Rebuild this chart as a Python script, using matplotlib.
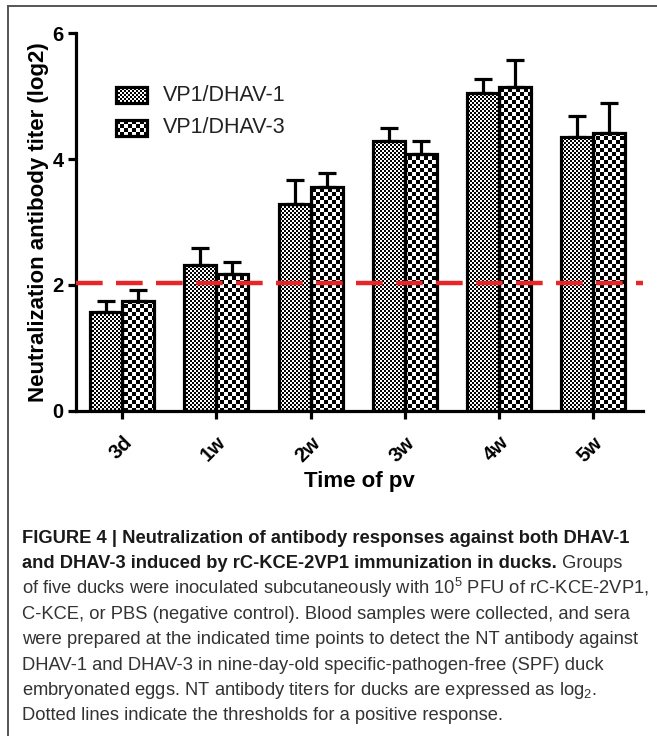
import numpy as np
import matplotlib
matplotlib.use('Agg')
from matplotlib import pyplot as plt
from matplotlib.patches import Rectangle
from matplotlib.lines import Line2D

plt.rcParams['font.family'] = ['Liberation Sans', 'DejaVu Sans']

# data
categories = ['3d', '1w', '2w', '3w', '4w', '5w']
dhav1 = [1.57, 2.31, 3.28, 4.28, 5.05, 4.35]
dhav1_err = [0.18, 0.27, 0.38, 0.21, 0.22, 0.34]
dhav3 = [1.74, 2.17, 3.55, 4.08, 5.14, 4.41]
dhav3_err = [0.18, 0.20, 0.23, 0.20, 0.44, 0.48]
labels = ['VP1/DHAV-1', 'VP1/DHAV-3']
threshold = 2.03
yticks = [0, 2, 4, 6]

W, H = 657, 736
fig = plt.figure(figsize=(W / 100, H / 100), dpi=100)
ax = fig.add_axes([76 / W, 1 - 410.7 / H, (643 - 76) / W, (410.7 - 33.3) / H])
ax.patch.set_alpha(0)

# checker patterns, pixel aligned (fine for DHAV-1, coarse for DHAV-3)
ii, jj = np.mgrid[0:H, 0:W]
checkers = [((ii // 2 + jj // 2) % 2).astype(float),
            ((ii // 4 + jj // 4) % 2).astype(float)]

def fill_checker(patch, k):
    im = fig.figimage(checkers[k], xo=0, yo=0, cmap='gray', vmin=0, vmax=1,
                      origin='lower', zorder=-1)
    im.set_clip_path(patch)

x = np.arange(len(categories))
w = 0.34
lw = 2.3
for k, (vals, errs) in enumerate([(dhav1, dhav1_err), (dhav3, dhav3_err)]):
    xs = x - w / 2 if k == 0 else x + w / 2
    ax.errorbar(xs, vals, yerr=[np.zeros(len(vals)), errs], fmt='none',
                ecolor='k', elinewidth=lw, capsize=6.5, capthick=lw, zorder=2)
    bars = ax.bar(xs, vals, width=w, facecolor='none', edgecolor='k',
                  linewidth=lw, zorder=3)
    for b in bars:
        fill_checker(b, k)

ax.axhline(threshold, color='#e8262a', lw=3.2, dashes=(6, 3), zorder=4)

# legend drawn by hand so the patches can carry the checker fill
for k, lab in enumerate(labels):
    yb = 0.815 - k * 0.087
    r = Rectangle((0.0705, yb), 0.0547, 0.0424, transform=ax.transAxes,
                  facecolor='none', edgecolor='k', lw=lw, zorder=5)
    ax.add_patch(r)
    fill_checker(r, k)
    ax.text(0.153, yb + 0.0212, lab, transform=ax.transAxes, fontsize=15.5,
            va='center', ha='left', color='#222')

ax.set_xlim(-0.49, 5.53)
ax.set_ylim(0, 6)
ax.set_yticks(yticks)
ax.set_yticklabels([str(t) for t in yticks], fontsize=14.5, fontweight='bold')
ax.set_xticks(x)
ax.set_xticklabels(categories, fontsize=14.5, fontweight='bold', rotation=45,
                   ha='right', rotation_mode='anchor')
for s in ['top', 'right']:
    ax.spines[s].set_visible(False)
for s in ['left', 'bottom']:
    ax.spines[s].set_linewidth(lw)
ax.tick_params(direction='out', length=6, width=lw, pad=3)
ax.tick_params(axis='x', pad=10)
ax.set_ylabel('Neutralization antibody titer (log2)', fontsize=16,
              fontweight='bold', labelpad=2)
ax.set_xlabel('Time of pv', fontsize=16, fontweight='bold', labelpad=4)

# frame around the figure (top and left edges visible)
fig.add_artist(Line2D([8 / W, 1], [1 - 6 / H, 1 - 6 / H], color='#555', lw=1.4))
fig.add_artist(Line2D([8 / W, 8 / W], [1 - 6 / H, 0], color='#555', lw=1.4))

# caption
cap_font = ['Liberation Sans', 'DejaVu Sans']
cap_size = 13.2
x0 = 22 / W
base = [543 + 25.3 * i for i in range(8)]
lines = [
    (r'FIGURE 4 | Neutralization of antibody responses against both DHAV-1', None),
    (r'and DHAV-3 induced by rC-KCE-2VP1 immunization in ducks.', ' Groups'),
    (r'of five ducks were inoculated subcutaneously with 10$^{\mathregular{5}}$ PFU of rC-KCE-2VP1,', ''),
    (r'C-KCE, or PBS (negative control). Blood samples were collected, and sera', ''),
    (r'were prepared at the indicated time points to detect the NT antibody against', ''),
    (r'DHAV-1 and DHAV-3 in nine-day-old specific-pathogen-free (SPF) duck', ''),
    (r'embryonated eggs. NT antibody titers for ducks are expressed as log$_{\mathregular{2}}$.', ''),
    (r'Dotted lines indicate the thresholds for a positive response.', ''),
]
renderer = fig.canvas.get_renderer()
for (txt, extra), b in zip(lines, base):
    y = 1 - b / H
    bold = extra is not None and extra != ''
    if extra is None or bold:
        t = fig.text(x0, y, txt, family=cap_font, fontsize=cap_size,
                     fontweight='bold', va='baseline', color='#1a1a1a')
        if bold:
            bb = t.get_window_extent(renderer)
            fig.text(bb.x1 / W, y, extra, family=cap_font, fontsize=cap_size,
                     va='baseline', color='#333')
    else:
        fig.text(x0, y, txt, family=cap_font, fontsize=cap_size,
                 va='baseline', color='#333')

fig.savefig('out.png', dpi=100)
